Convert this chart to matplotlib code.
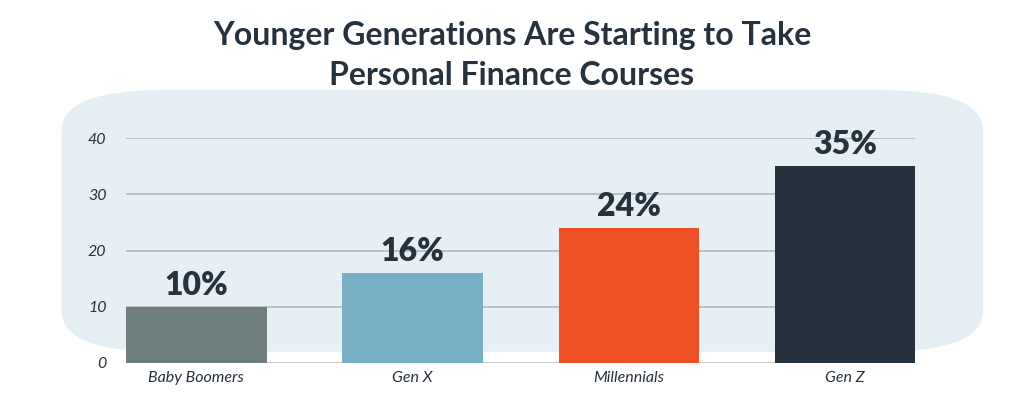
import matplotlib.pyplot as plt
import numpy as np
from matplotlib.patches import FancyBboxPatch

## data
categories = ['Baby Boomers', 'Gen X', 'Millennials', 'Gen Z']
values = [10, 16, 24, 35]
labels = ['10%', '16%', '24%', '35%']
colors = ['#6e7e7c', '#78b1c6', '#ef5024', '#27323f']
yticks = [0, 10, 20, 30, 40]

txt_color = '#27323f'

fig = plt.figure(figsize=(10.24, 4.09), dpi=100)
fig.patch.set_facecolor('white')

## soft blue wash behind the chart, in its own background axes
bg = fig.add_axes([0, 0, 1, 1], zorder=0)
bg.set_xlim(0, 1)
bg.set_ylim(0, 1)
bg.axis('off')
bg.add_patch(FancyBboxPatch((0.08, 0.16), 0.86, 0.6, boxstyle='round,pad=0.02,rounding_size=0.1',
                            facecolor='#e6f0f4', edgecolor='none'))

ax = fig.add_axes([0.123, 0.1125, 0.771, 0.550], zorder=1)
ax.set_facecolor('none')

x = np.arange(len(categories))
ax.bar(x, values, width=0.65, color=colors, zorder=3)

for xi, v, lab in zip(x, values, labels):
    ax.text(xi, v + 1.2, lab, ha='center', va='bottom', fontsize=23, fontweight='heavy',
            family='Lato', color=txt_color)

ax.set_xlim(-0.325, 3.325)
ax.set_ylim(0, 40)
ax.set_yticks(yticks)
ax.set_yticklabels([str(t) for t in yticks], fontsize=11.5, fontstyle='italic',
                   family='Lato', color=txt_color)
ax.set_xticks(x)
ax.set_xticklabels(categories, fontsize=11.5, fontstyle='italic', family='Lato', color=txt_color)
ax.tick_params(length=0, axis='y', pad=14)
ax.tick_params(length=0, axis='x', pad=6)

ax.grid(axis='y', color='#b3b8bb', linewidth=1.2, zorder=1)
for s in ax.spines.values():
    s.set_visible(False)
ax.axhline(0, color='#e6e9ea', linewidth=1, zorder=2)

fig.text(0.5, 0.912, 'Younger Generations Are Starting to Take', ha='center', va='center',
         fontsize=23, fontweight='bold', family='Lato', color=txt_color)
fig.text(0.5, 0.815, 'Personal Finance Courses', ha='center', va='center',
         fontsize=23, fontweight='bold', family='Lato', color=txt_color)

fig.savefig('out.png', dpi=100)
